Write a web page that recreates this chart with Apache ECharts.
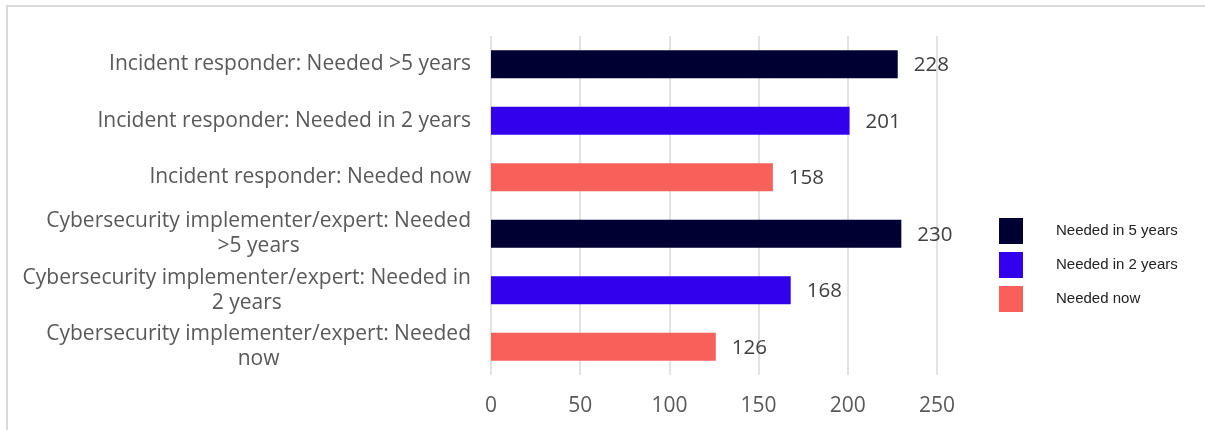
<!DOCTYPE html>
<html>
<head>
<meta charset="utf-8">
<script src="https://cdn.jsdelivr.net/npm/echarts@6/dist/echarts.min.js"></script>
<style>html,body{margin:0;padding:0;background:#fff}#c{width:1205px;height:430px}</style>
</head>
<body>
<div id="c"></div>
<script>
const categories = [
  "Incident responder: Needed >5 years",
  "Incident responder: Needed in 2 years",
  "Incident responder: Needed now",
  "Cybersecurity implementer/expert: Needed\n>5 years",
  "Cybersecurity implementer/expert: Needed in\n2 years",
  "Cybersecurity implementer/expert: Needed\nnow"
];
const seriesNames = ["Needed in 5 years", "Needed in 2 years", "Needed now"];
const values5y = [228, null, null, 230, null, null];
const values2y = [null, 201, null, null, 168, null];
const valuesNow = [null, null, 158, null, null, 126];
const xTicks = {min: 0, max: 250, interval: 50};

const colors = ["#000033", "#3300EE", "#F8605A"];
const font = "'Open Sans', sans-serif";

function mk(name, data, color) {
  return {
    name, type: 'bar', data, barWidth: 28, barGap: '-100%',
    itemStyle: {color},
    label: {show: true, position: 'right', distance: 16, color: '#404040', fontSize: 20.5, fontFamily: font, offset: [0, 1]},
    emphasis: {disabled: true}
  };
}

const chart = echarts.init(document.getElementById('c'), null, {renderer: 'canvas'});
chart.setOption({
  animation: false,
  backgroundColor: '#fff',
  graphic: [{type: 'rect', shape: {x: 7, y: 6, width: 1400, height: 600}, style: {fill: 'none', stroke: '#d9d9d9', lineWidth: 2}, silent: true, z: -1}],
  grid: {left: 491, right: 268, top: 36, height: 339},
  legend: {
    orient: 'vertical', left: 994, top: 213, itemWidth: 24, itemHeight: 26, itemGap: 8,
    icon: 'rect', data: seriesNames,
    textStyle: {fontSize: 15, color: '#222', fontFamily: "'Liberation Sans', sans-serif", padding: [0, 0, 0, 28]},
    selectedMode: false
  },
  xAxis: {
    type: 'value', min: xTicks.min, max: xTicks.max, interval: xTicks.interval,
    axisLine: {show: false}, axisTick: {show: false},
    splitLine: {lineStyle: {color: '#d9d9d9', width: 1.5}},
    axisLabel: {fontSize: 21, color: '#595959', margin: 21, fontFamily: font}
  },
  yAxis: {
    type: 'category', inverse: true, data: categories,
    axisLine: {show: false}, axisTick: {show: false},
    axisLabel: {
      margin: 20, color: '#595959', fontSize: 21, fontFamily: font, lineHeight: 25,
      formatter: v => v.split('\n').map(l => '{c|' + l + '}').join('\n'),
      rich: {c: {align: 'center', fontSize: 21, fontFamily: font, color: '#595959', lineHeight: 25}}
    }
  },
  series: [mk(seriesNames[0], values5y, colors[0]), mk(seriesNames[1], values2y, colors[1]), mk(seriesNames[2], valuesNow, colors[2])]
});
</script>
</body>
</html>
